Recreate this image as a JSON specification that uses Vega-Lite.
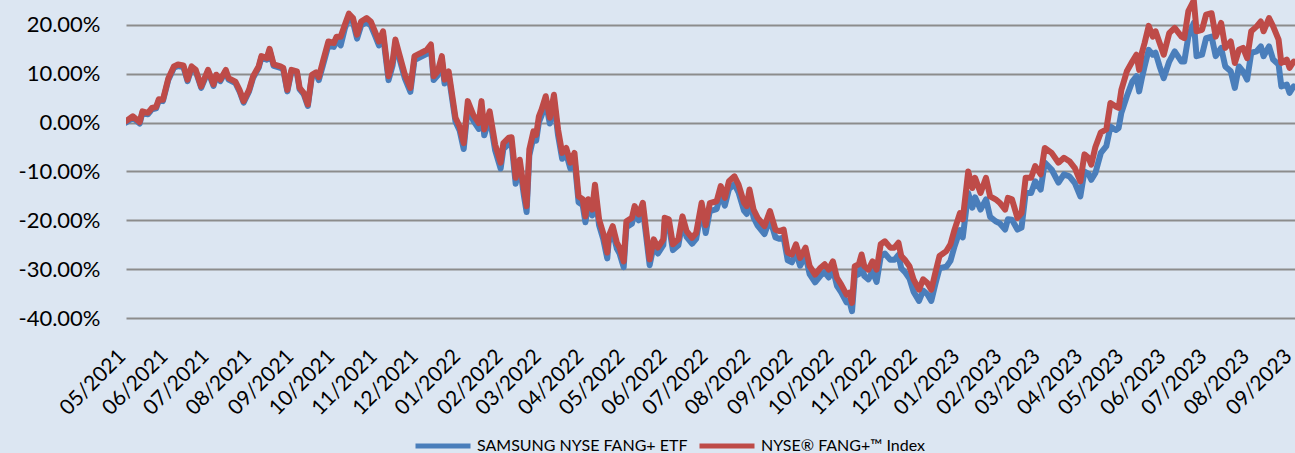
{
  "$schema": "https://vega.github.io/schema/vega-lite/v6.json",
  "width": 1169,
  "height": 318,
  "autosize": {"type": "none"},
  "padding": {"left": 126, "top": 0, "right": 0, "bottom": 135},
  "background": "#dce6f2",
  "config": {"view": {"stroke": null}, "font": "Lato"},
  "data": {"values": [
    {"date": "2021-05-01", "index": 0.3, "etf": 0.0},
    {"date": "2021-05-06", "index": 1.3, "etf": 1.0},
    {"date": "2021-05-11", "index": 0.1, "etf": -0.2},
    {"date": "2021-05-13", "index": 2.3, "etf": 2.0},
    {"date": "2021-05-17", "index": 2.0, "etf": 1.7},
    {"date": "2021-05-20", "index": 3.0, "etf": 2.7},
    {"date": "2021-05-23", "index": 3.2, "etf": 2.9},
    {"date": "2021-05-25", "index": 4.8, "etf": 4.5},
    {"date": "2021-05-28", "index": 4.7, "etf": 4.4},
    {"date": "2021-06-01", "index": 9.1, "etf": 8.8},
    {"date": "2021-06-05", "index": 11.5, "etf": 11.2},
    {"date": "2021-06-08", "index": 11.9, "etf": 11.6},
    {"date": "2021-06-12", "index": 11.7, "etf": 11.4},
    {"date": "2021-06-15", "index": 8.8, "etf": 8.5},
    {"date": "2021-06-18", "index": 11.5, "etf": 11.2},
    {"date": "2021-06-21", "index": 10.8, "etf": 10.5},
    {"date": "2021-06-25", "index": 7.4, "etf": 7.1},
    {"date": "2021-06-30", "index": 10.8, "etf": 10.5},
    {"date": "2021-07-04", "index": 7.8, "etf": 7.5},
    {"date": "2021-07-06", "index": 9.8, "etf": 9.5},
    {"date": "2021-07-09", "index": 8.8, "etf": 8.5},
    {"date": "2021-07-13", "index": 10.8, "etf": 10.5},
    {"date": "2021-07-15", "index": 9.1, "etf": 8.8},
    {"date": "2021-07-20", "index": 8.4, "etf": 8.1},
    {"date": "2021-07-23", "index": 6.7, "etf": 6.4},
    {"date": "2021-07-26", "index": 4.4, "etf": 4.1},
    {"date": "2021-07-30", "index": 6.7, "etf": 6.4},
    {"date": "2021-08-02", "index": 9.5, "etf": 9.2},
    {"date": "2021-08-06", "index": 11.5, "etf": 11.2},
    {"date": "2021-08-08", "index": 13.6, "etf": 13.3},
    {"date": "2021-08-12", "index": 13.2, "etf": 12.9},
    {"date": "2021-08-14", "index": 15.1, "etf": 14.8},
    {"date": "2021-08-17", "index": 11.9, "etf": 11.6},
    {"date": "2021-08-22", "index": 11.5, "etf": 11.2},
    {"date": "2021-08-24", "index": 11.2, "etf": 10.9},
    {"date": "2021-08-27", "index": 6.7, "etf": 6.4},
    {"date": "2021-08-30", "index": 10.8, "etf": 10.5},
    {"date": "2021-09-03", "index": 10.5, "etf": 10.2},
    {"date": "2021-09-05", "index": 7.1, "etf": 6.8},
    {"date": "2021-09-08", "index": 6.1, "etf": 5.8},
    {"date": "2021-09-11", "index": 3.7, "etf": 3.4},
    {"date": "2021-09-14", "index": 9.8, "etf": 9.5},
    {"date": "2021-09-17", "index": 10.3, "etf": 10.0},
    {"date": "2021-09-19", "index": 9.3, "etf": 8.7},
    {"date": "2021-09-22", "index": 12.5, "etf": 11.7},
    {"date": "2021-09-26", "index": 16.6, "etf": 15.8},
    {"date": "2021-09-30", "index": 16.3, "etf": 15.5},
    {"date": "2021-10-02", "index": 17.6, "etf": 16.8},
    {"date": "2021-10-05", "index": 17.6, "etf": 15.8},
    {"date": "2021-10-08", "index": 20.0, "etf": 19.2},
    {"date": "2021-10-11", "index": 22.3, "etf": 21.5},
    {"date": "2021-10-14", "index": 21.4, "etf": 20.6},
    {"date": "2021-10-17", "index": 18.0, "etf": 17.2},
    {"date": "2021-10-20", "index": 20.7, "etf": 19.9},
    {"date": "2021-10-24", "index": 21.4, "etf": 20.6},
    {"date": "2021-10-27", "index": 20.7, "etf": 19.9},
    {"date": "2021-10-30", "index": 18.7, "etf": 17.9},
    {"date": "2021-11-02", "index": 16.6, "etf": 15.8},
    {"date": "2021-11-05", "index": 18.7, "etf": 17.9},
    {"date": "2021-11-09", "index": 9.5, "etf": 8.7},
    {"date": "2021-11-12", "index": 12.5, "etf": 11.7},
    {"date": "2021-11-14", "index": 17.0, "etf": 16.2},
    {"date": "2021-11-17", "index": 13.9, "etf": 13.1},
    {"date": "2021-11-21", "index": 9.8, "etf": 9.0},
    {"date": "2021-11-25", "index": 7.1, "etf": 6.3},
    {"date": "2021-11-28", "index": 13.6, "etf": 12.8},
    {"date": "2021-12-03", "index": 14.3, "etf": 13.5},
    {"date": "2021-12-07", "index": 14.9, "etf": 14.1},
    {"date": "2021-12-10", "index": 16.0, "etf": 15.2},
    {"date": "2021-12-12", "index": 9.5, "etf": 8.7},
    {"date": "2021-12-15", "index": 10.5, "etf": 9.7},
    {"date": "2021-12-18", "index": 13.6, "etf": 12.8},
    {"date": "2021-12-20", "index": 8.8, "etf": 8.0},
    {"date": "2021-12-23", "index": 10.5, "etf": 9.7},
    {"date": "2021-12-25", "index": 6.7, "etf": 5.9},
    {"date": "2021-12-28", "index": 1.0, "etf": 0.2},
    {"date": "2021-12-31", "index": -0.8, "etf": -1.6},
    {"date": "2022-01-03", "index": -4.2, "etf": -5.4},
    {"date": "2022-01-06", "index": 4.4, "etf": 3.2},
    {"date": "2022-01-10", "index": 1.6, "etf": 0.4},
    {"date": "2022-01-14", "index": -0.1, "etf": -1.3},
    {"date": "2022-01-16", "index": 4.4, "etf": 3.2},
    {"date": "2022-01-18", "index": -1.4, "etf": -2.6},
    {"date": "2022-01-22", "index": 2.3, "etf": 1.1},
    {"date": "2022-01-26", "index": -4.5, "etf": -5.7},
    {"date": "2022-01-30", "index": -8.2, "etf": -9.4},
    {"date": "2022-02-01", "index": -4.2, "etf": -5.4},
    {"date": "2022-02-05", "index": -3.1, "etf": -4.3},
    {"date": "2022-02-07", "index": -3.0, "etf": -4.2},
    {"date": "2022-02-10", "index": -11.3, "etf": -12.5},
    {"date": "2022-02-13", "index": -7.6, "etf": -8.8},
    {"date": "2022-02-16", "index": -13.7, "etf": -14.9},
    {"date": "2022-02-18", "index": -17.1, "etf": -18.3},
    {"date": "2022-02-20", "index": -5.5, "etf": -6.7},
    {"date": "2022-02-23", "index": -1.8, "etf": -3.0},
    {"date": "2022-02-25", "index": -2.5, "etf": -3.7},
    {"date": "2022-02-27", "index": 1.3, "etf": 0.1},
    {"date": "2022-03-01", "index": 2.7, "etf": 1.5},
    {"date": "2022-03-04", "index": 5.4, "etf": 4.2},
    {"date": "2022-03-07", "index": 1.0, "etf": -0.2},
    {"date": "2022-03-10", "index": 5.7, "etf": 4.5},
    {"date": "2022-03-13", "index": -1.4, "etf": -2.6},
    {"date": "2022-03-16", "index": -6.2, "etf": -7.4},
    {"date": "2022-03-19", "index": -5.2, "etf": -6.4},
    {"date": "2022-03-22", "index": -8.2, "etf": -9.4},
    {"date": "2022-03-25", "index": -6.2, "etf": -7.4},
    {"date": "2022-03-28", "index": -15.1, "etf": -16.3},
    {"date": "2022-03-31", "index": -15.7, "etf": -16.9},
    {"date": "2022-04-02", "index": -19.2, "etf": -20.4},
    {"date": "2022-04-04", "index": -15.7, "etf": -16.9},
    {"date": "2022-04-07", "index": -17.8, "etf": -19.0},
    {"date": "2022-04-09", "index": -12.7, "etf": -13.9},
    {"date": "2022-04-12", "index": -19.8, "etf": -21.0},
    {"date": "2022-04-15", "index": -22.6, "etf": -23.8},
    {"date": "2022-04-18", "index": -26.6, "etf": -27.8},
    {"date": "2022-04-19", "index": -23.3, "etf": -24.5},
    {"date": "2022-04-22", "index": -21.2, "etf": -22.4},
    {"date": "2022-04-25", "index": -24.6, "etf": -25.8},
    {"date": "2022-04-27", "index": -25.6, "etf": -26.8},
    {"date": "2022-04-30", "index": -28.4, "etf": -29.6},
    {"date": "2022-05-02", "index": -20.2, "etf": -21.4},
    {"date": "2022-05-06", "index": -19.5, "etf": -20.7},
    {"date": "2022-05-08", "index": -17.1, "etf": -18.3},
    {"date": "2022-05-11", "index": -18.8, "etf": -20.0},
    {"date": "2022-05-14", "index": -16.4, "etf": -17.6},
    {"date": "2022-05-19", "index": -28.0, "etf": -29.2},
    {"date": "2022-05-22", "index": -23.9, "etf": -25.1},
    {"date": "2022-05-25", "index": -25.6, "etf": -26.8},
    {"date": "2022-05-29", "index": -23.9, "etf": -25.1},
    {"date": "2022-05-30", "index": -19.5, "etf": -20.7},
    {"date": "2022-06-02", "index": -19.8, "etf": -21.0},
    {"date": "2022-06-05", "index": -24.9, "etf": -26.1},
    {"date": "2022-06-09", "index": -23.9, "etf": -25.1},
    {"date": "2022-06-12", "index": -19.2, "etf": -20.4},
    {"date": "2022-06-15", "index": -22.2, "etf": -23.4},
    {"date": "2022-06-19", "index": -23.6, "etf": -24.8},
    {"date": "2022-06-22", "index": -22.6, "etf": -23.8},
    {"date": "2022-06-26", "index": -16.4, "etf": -17.6},
    {"date": "2022-06-29", "index": -21.0, "etf": -22.6},
    {"date": "2022-07-02", "index": -16.5, "etf": -18.1},
    {"date": "2022-07-07", "index": -16.1, "etf": -17.7},
    {"date": "2022-07-10", "index": -13.0, "etf": -14.6},
    {"date": "2022-07-13", "index": -15.4, "etf": -17.0},
    {"date": "2022-07-16", "index": -12.0, "etf": -13.6},
    {"date": "2022-07-20", "index": -11.0, "etf": -12.6},
    {"date": "2022-07-23", "index": -12.7, "etf": -14.3},
    {"date": "2022-07-27", "index": -16.4, "etf": -18.0},
    {"date": "2022-07-29", "index": -17.1, "etf": -18.7},
    {"date": "2022-07-31", "index": -13.7, "etf": -15.3},
    {"date": "2022-08-03", "index": -17.8, "etf": -19.4},
    {"date": "2022-08-06", "index": -19.5, "etf": -21.1},
    {"date": "2022-08-11", "index": -21.2, "etf": -22.8},
    {"date": "2022-08-15", "index": -18.1, "etf": -19.7},
    {"date": "2022-08-19", "index": -21.9, "etf": -23.5},
    {"date": "2022-08-22", "index": -22.2, "etf": -23.8},
    {"date": "2022-08-25", "index": -21.9, "etf": -23.5},
    {"date": "2022-08-28", "index": -26.6, "etf": -28.2},
    {"date": "2022-08-31", "index": -27.0, "etf": -28.6},
    {"date": "2022-09-03", "index": -24.9, "etf": -26.5},
    {"date": "2022-09-06", "index": -27.7, "etf": -29.3},
    {"date": "2022-09-10", "index": -25.6, "etf": -27.2},
    {"date": "2022-09-13", "index": -29.4, "etf": -31.0},
    {"date": "2022-09-17", "index": -31.1, "etf": -32.7},
    {"date": "2022-09-21", "index": -29.7, "etf": -31.3},
    {"date": "2022-09-24", "index": -29.0, "etf": -30.6},
    {"date": "2022-09-27", "index": -30.1, "etf": -31.7},
    {"date": "2022-09-30", "index": -28.4, "etf": -30.0},
    {"date": "2022-10-03", "index": -31.8, "etf": -33.4},
    {"date": "2022-10-06", "index": -33.1, "etf": -34.7},
    {"date": "2022-10-10", "index": -35.2, "etf": -36.8},
    {"date": "2022-10-12", "index": -34.8, "etf": -36.4},
    {"date": "2022-10-14", "index": -36.9, "etf": -38.6},
    {"date": "2022-10-16", "index": -29.4, "etf": -31.4},
    {"date": "2022-10-19", "index": -29.0, "etf": -31.0},
    {"date": "2022-10-21", "index": -27.0, "etf": -29.0},
    {"date": "2022-10-23", "index": -29.4, "etf": -31.4},
    {"date": "2022-10-26", "index": -30.1, "etf": -32.1},
    {"date": "2022-10-29", "index": -28.4, "etf": -30.4},
    {"date": "2022-11-01", "index": -30.1, "etf": -32.6},
    {"date": "2022-11-04", "index": -24.9, "etf": -27.4},
    {"date": "2022-11-07", "index": -24.3, "etf": -26.8},
    {"date": "2022-11-11", "index": -25.6, "etf": -28.1},
    {"date": "2022-11-14", "index": -25.6, "etf": -28.1},
    {"date": "2022-11-17", "index": -24.6, "etf": -27.1},
    {"date": "2022-11-19", "index": -27.3, "etf": -29.8},
    {"date": "2022-11-22", "index": -28.2, "etf": -30.7},
    {"date": "2022-11-25", "index": -29.4, "etf": -31.9},
    {"date": "2022-11-28", "index": -32.1, "etf": -34.6},
    {"date": "2022-12-02", "index": -34.2, "etf": -36.5},
    {"date": "2022-12-05", "index": -32.1, "etf": -34.4},
    {"date": "2022-12-08", "index": -32.8, "etf": -35.1},
    {"date": "2022-12-11", "index": -34.2, "etf": -36.5},
    {"date": "2022-12-14", "index": -30.7, "etf": -33.0},
    {"date": "2022-12-17", "index": -27.3, "etf": -29.8},
    {"date": "2022-12-22", "index": -26.3, "etf": -29.5},
    {"date": "2022-12-25", "index": -24.9, "etf": -28.3},
    {"date": "2022-12-28", "index": -21.9, "etf": -25.3},
    {"date": "2023-01-01", "index": -18.5, "etf": -22.0},
    {"date": "2023-01-03", "index": -19.8, "etf": -23.5},
    {"date": "2023-01-07", "index": -10.0, "etf": -14.4},
    {"date": "2023-01-10", "index": -13.4, "etf": -17.4},
    {"date": "2023-01-12", "index": -11.3, "etf": -15.3},
    {"date": "2023-01-16", "index": -14.4, "etf": -17.8},
    {"date": "2023-01-20", "index": -11.3, "etf": -15.7},
    {"date": "2023-01-23", "index": -15.1, "etf": -19.3},
    {"date": "2023-01-27", "index": -15.7, "etf": -20.2},
    {"date": "2023-01-30", "index": -16.4, "etf": -20.6},
    {"date": "2023-02-03", "index": -17.8, "etf": -21.9},
    {"date": "2023-02-05", "index": -15.4, "etf": -19.8},
    {"date": "2023-02-08", "index": -15.7, "etf": -19.9},
    {"date": "2023-02-12", "index": -19.5, "etf": -21.9},
    {"date": "2023-02-15", "index": -18.5, "etf": -21.5},
    {"date": "2023-02-18", "index": -11.3, "etf": -14.4},
    {"date": "2023-02-22", "index": -11.3, "etf": -14.4},
    {"date": "2023-02-25", "index": -8.9, "etf": -12.0},
    {"date": "2023-03-01", "index": -10.6, "etf": -13.7},
    {"date": "2023-03-04", "index": -5.2, "etf": -8.2},
    {"date": "2023-03-09", "index": -6.2, "etf": -9.6},
    {"date": "2023-03-14", "index": -8.2, "etf": -12.3},
    {"date": "2023-03-18", "index": -7.2, "etf": -10.6},
    {"date": "2023-03-22", "index": -7.9, "etf": -11.0},
    {"date": "2023-03-26", "index": -9.3, "etf": -12.4},
    {"date": "2023-03-30", "index": -12.0, "etf": -15.1},
    {"date": "2023-04-02", "index": -6.5, "etf": -10.0},
    {"date": "2023-04-05", "index": -7.2, "etf": -10.5},
    {"date": "2023-04-07", "index": -8.6, "etf": -11.7},
    {"date": "2023-04-10", "index": -5.0, "etf": -10.3},
    {"date": "2023-04-14", "index": -2.0, "etf": -6.2},
    {"date": "2023-04-18", "index": -1.4, "etf": -4.8},
    {"date": "2023-04-21", "index": 4.0, "etf": -0.8},
    {"date": "2023-04-25", "index": 3.3, "etf": -1.5},
    {"date": "2023-04-27", "index": 3.0, "etf": -1.1},
    {"date": "2023-04-29", "index": 6.7, "etf": 2.0},
    {"date": "2023-05-03", "index": 10.5, "etf": 5.4},
    {"date": "2023-05-07", "index": 12.5, "etf": 8.4},
    {"date": "2023-05-10", "index": 13.9, "etf": 9.5},
    {"date": "2023-05-12", "index": 10.8, "etf": 6.4},
    {"date": "2023-05-14", "index": 14.3, "etf": 9.1},
    {"date": "2023-05-16", "index": 16.3, "etf": 11.5},
    {"date": "2023-05-19", "index": 19.8, "etf": 14.9},
    {"date": "2023-05-22", "index": 17.6, "etf": 13.9},
    {"date": "2023-05-24", "index": 18.7, "etf": 14.3},
    {"date": "2023-05-27", "index": 16.3, "etf": 11.5},
    {"date": "2023-05-30", "index": 13.9, "etf": 9.1},
    {"date": "2023-06-03", "index": 18.3, "etf": 12.5},
    {"date": "2023-06-07", "index": 19.4, "etf": 14.6},
    {"date": "2023-06-12", "index": 17.6, "etf": 12.5},
    {"date": "2023-06-14", "index": 17.3, "etf": 12.5},
    {"date": "2023-06-17", "index": 22.8, "etf": 17.6},
    {"date": "2023-06-21", "index": 25.0, "etf": 20.4},
    {"date": "2023-06-23", "index": 18.7, "etf": 13.6},
    {"date": "2023-06-27", "index": 19.0, "etf": 13.9},
    {"date": "2023-06-30", "index": 22.1, "etf": 17.3},
    {"date": "2023-07-04", "index": 22.4, "etf": 17.6},
    {"date": "2023-07-07", "index": 17.6, "etf": 13.6},
    {"date": "2023-07-11", "index": 20.4, "etf": 15.3},
    {"date": "2023-07-14", "index": 15.3, "etf": 11.5},
    {"date": "2023-07-18", "index": 16.6, "etf": 10.5},
    {"date": "2023-07-21", "index": 12.2, "etf": 7.1},
    {"date": "2023-07-24", "index": 14.9, "etf": 11.5},
    {"date": "2023-07-27", "index": 15.3, "etf": 10.5},
    {"date": "2023-07-30", "index": 13.2, "etf": 8.8},
    {"date": "2023-08-02", "index": 18.7, "etf": 14.3},
    {"date": "2023-08-06", "index": 19.7, "etf": 14.6},
    {"date": "2023-08-09", "index": 20.7, "etf": 15.6},
    {"date": "2023-08-11", "index": 18.7, "etf": 13.6},
    {"date": "2023-08-15", "index": 21.4, "etf": 15.6},
    {"date": "2023-08-18", "index": 19.7, "etf": 12.9},
    {"date": "2023-08-22", "index": 17.0, "etf": 11.9},
    {"date": "2023-08-24", "index": 12.2, "etf": 7.4},
    {"date": "2023-08-28", "index": 12.9, "etf": 7.8},
    {"date": "2023-08-30", "index": 11.2, "etf": 6.1},
    {"date": "2023-09-02", "index": 12.5, "etf": 7.4}
  ]},
  "transform": [{"fold": ["etf", "index"], "as": ["series", "value"]}],
  "mark": {"type": "line", "strokeWidth": 6, "strokeJoin": "round", "strokeCap": "round", "clip": true},
  "encoding": {
    "x": {
      "field": "date", "type": "temporal",
      "scale": {"type": "utc", "domain": ["2021-05-01", "2023-09-03"]},
      "axis": {
        "format": "%m/%Y", "tickCount": {"interval": "month", "step": 1},
        "grid": false, "domain": false, "ticks": false, "title": null,
        "labelAngle": -45, "labelAlign": "right", "labelBaseline": "middle",
        "labelFontSize": 21, "labelColor": "#000000", "labelPadding": 35, "labelOffset": -4,
        "labelOverlap": false, "labelFlush": false, "labelBound": false
      }
    },
    "y": {
      "field": "value", "type": "quantitative",
      "scale": {"domain": [-40, 25.1], "nice": false, "zero": false},
      "axis": {
        "values": [-40, -30, -20, -10, 0, 10, 20],
        "labelExpr": "(datum.value < 0 ? '-' : '') + format(abs(datum.value), '.2f') + '%'",
        "grid": true, "gridColor": "#8c8c8c", "gridWidth": 2,
        "domain": false, "ticks": false, "title": null,
        "labelFontSize": 22, "labelColor": "#000000", "labelPadding": 26
      }
    },
    "color": {
      "field": "series", "type": "nominal",
      "scale": {"domain": ["etf", "index"], "range": ["#4a7ebb", "#be4b48"]},
      "legend": {
        "orient": "none", "legendX": 287, "legendY": 416, "direction": "horizontal",
        "title": null, "symbolType": "stroke", "symbolSize": 3025, "symbolStrokeWidth": 5,
        "labelFontSize": 16, "labelColor": "#000000", "labelOffset": 4, "columnPadding": 1,
        "labelLimit": 400,
        "labelExpr": "datum.value == 'etf' ? 'SAMSUNG NYSE FANG+ ETF' : 'NYSE® FANG+™ Index'"
      }
    }
  }
}
